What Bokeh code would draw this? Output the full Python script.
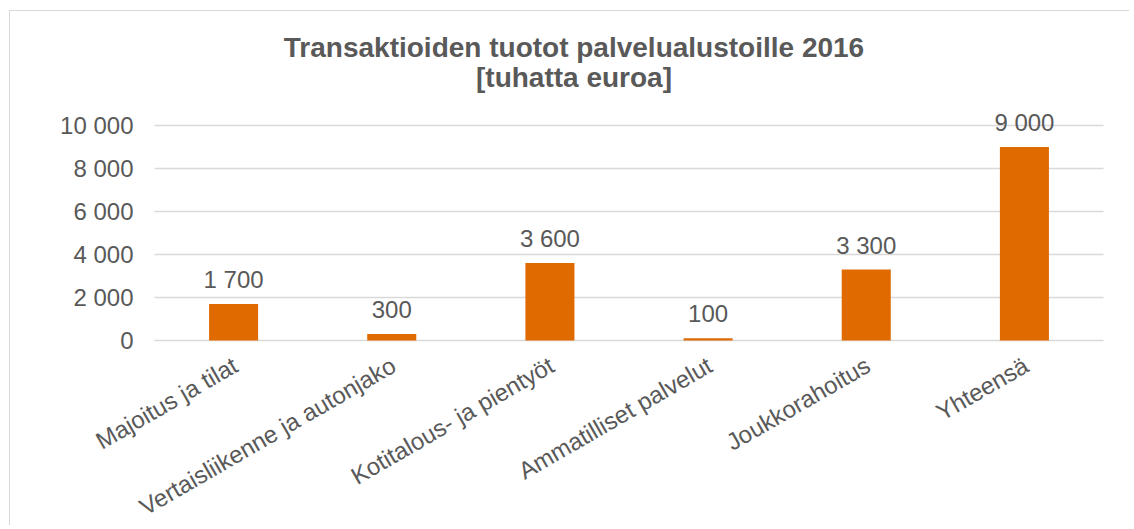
from bokeh.plotting import figure
from bokeh.models import ColumnDataSource, Range1d, LabelSet, Label
from bokeh.core.properties import value
from bokeh.embed import file_html
from bokeh.resources import INLINE
import math

categories = ["Majoitus ja tilat", "Vertaisliikenne ja autonjako", "Kotitalous- ja pientyöt",
              "Ammatilliset palvelut", "Joukkorahoitus", "Yhteensä"]
values = [1700, 300, 3600, 100, 3300, 9000]
y_ticks = [0, 2000, 4000, 6000, 8000, 10000]
y_tick_labels = ["0", "2 000", "4 000", "6 000", "8 000", "10 000"]
title_lines = ["Transaktioiden tuotot palvelualustoille 2016", "[tuhatta euroa]"]

def fmt(v):
    return f"{v:,}".replace(",", " ")

FONT = "Liberation Sans"
TXT = "#595959"
GRID = "#D9D9D9"
BAR = "#DF6A00"
FS = "24px"

# layout (canvas pixels)
W, H = 1120, 515
AX_L, AX_R = 144, 1093      # left / right end of the value axis area
AX_T, AX_B = 114, 329       # y of top tick and of zero line
n = len(categories)
Y_MAX = y_ticks[-1]
ppx = (AX_R - AX_L) / n
ppy = (AX_B - AX_T) / Y_MAX

xr = Range1d(-AX_L / ppx, n + (W - AX_R) / ppx)
yr = Range1d(-(H - AX_B) / ppy, Y_MAX + AX_T / ppy)

xpos = [i + 0.5 for i in range(n)]
src = ColumnDataSource(dict(x=xpos, val=values, lab=[fmt(v) for v in values],
                            cat=categories, base=[0] * n))
tick_src = ColumnDataSource(dict(x0=[0] * len(y_ticks), x1=[n] * len(y_ticks),
                                 y=y_ticks, lab=y_tick_labels))

p = figure(x_range=xr, y_range=yr, width=W, height=H,
           output_backend="svg", toolbar_location=None, tools="",
           min_border=0, min_border_left=0, min_border_right=0,
           min_border_top=0, min_border_bottom=0)
p.styles = {"margin-left": "9px", "margin-top": "10px",
            "border-left": "1px solid #D9D9D9", "border-top": "1px solid #D9D9D9"}
p.axis.visible = False
p.grid.visible = False
p.outline_line_color = None
p.background_fill_color = "white"
p.border_fill_color = "white"

# gridlines
p.segment(x0="x0", x1="x1", y0="y", y1="y", source=tick_src, line_color=GRID, line_width=1.5)

# bars
p.vbar(x="x", top="val", width=0.31, source=src, color=BAR, line_color=None)

# value labels
p.add_layout(LabelSet(x="x", y="val", text="lab", source=src, text_align="center",
                      text_baseline="alphabetic", y_offset=16, text_font_size=FS,
                      text_color=TXT, text_font=value(FONT)))

# y tick labels
p.add_layout(LabelSet(x="x0", y="y", text="lab", source=tick_src, text_align="right",
                      text_baseline="middle", x_offset=-21, text_font_size=FS,
                      text_color=TXT, text_font=value(FONT)))

# category labels, rotated
p.add_layout(LabelSet(x="x", y="base", text="cat", source=src, text_align="right",
                      text_baseline="top", angle=math.radians(30), x_offset=-5, y_offset=-11,
                      text_font_size=FS, text_color=TXT, text_font=value(FONT)))

# title
mid = n / 2.0
p.add_layout(Label(x=mid, y=Y_MAX, text=title_lines[0], text_align="center",
                   text_baseline="alphabetic", x_offset=-55, y_offset=78,
                   text_font_size="28px", text_font_style="bold", text_color=TXT, text_font=FONT))
p.add_layout(Label(x=mid, y=Y_MAX, text=title_lines[1], text_align="center",
                   text_baseline="alphabetic", x_offset=-55, y_offset=48,
                   text_font_size="28px", text_font_style="bold", text_color=TXT, text_font=FONT))

open("out.html", "w").write(file_html(p, INLINE))
